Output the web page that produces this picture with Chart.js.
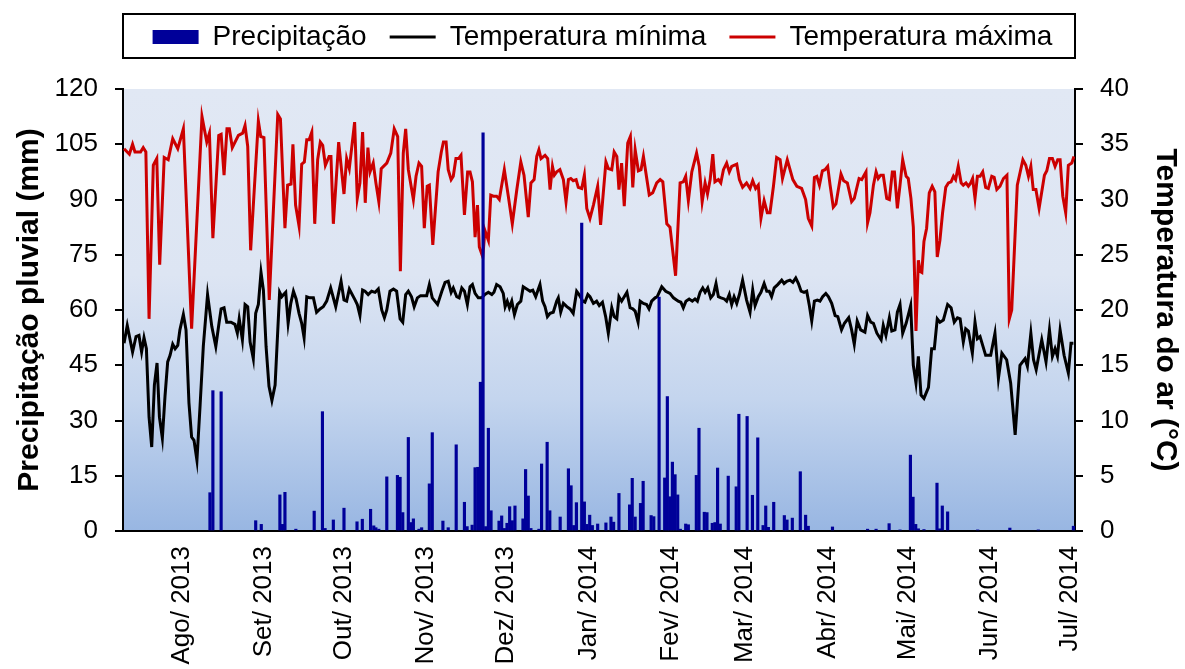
<!DOCTYPE html>
<html>
<head>
<meta charset="utf-8">
<script src="https://cdn.jsdelivr.net/npm/chart.js@4.4.1/dist/chart.umd.min.js"></script>
<style>
html, body { margin: 0; padding: 0; background: #fff; }
#wrap { width: 1185px; height: 669px; position: relative; }
</style>
</head>
<body>
<div id="wrap"><canvas id="chart"></canvas></div>
<script>
// x values are days counted from 10 Jul 2013
const monthDays = [22, 53, 83, 114, 144, 175, 206, 234, 265, 295, 326, 356];
const monthLabels = ['Ago/ 2013', 'Set/ 2013', 'Out/ 2013', 'Nov/ 2013', 'Dez/ 2013', 'Jan/ 2014',
    'Fev/ 2014', 'Mar/ 2014', 'Abr/ 2014', 'Mai/ 2014', 'Jun/ 2014', 'Jul/ 2014'];

// [day, mm]
const rain = [
    [32.7,10.4],[33.8,38.1],[36.9,37.8],[49.9,2.8],[52,1.8],[59,9.8],[60,1.8],[60.9,10.5],[65,0.5],
    [71.9,5.4],[75,32.4],[76,0.7],[79.1,3],[83.1,6.2],[88,2.5],[90,3.2],[93.1,5.9],[94.3,1.4],[95.1,0.9],
    [96.2,0.5],[99.2,14.7],[103.2,15.1],[104.2,14.6],[105.2,5],[107.3,25.4],[108.3,2.3],[109.2,3.3],
    [111.3,0.5],[112.3,0.9],[115.2,12.8],[116.3,26.7],[120.3,2.7],[122.3,0.9],[125.3,23.4],[128.4,7.8],
    [129.4,1.2],[131.3,1.6],[132.4,17.2],[133.4,17.3],[134.4,40.4],[135.4,108.1],[136.4,1.2],[137.4,27.9],
    [138.4,5.5],[141.4,2.7],[142.4,4.1],[143.4,0.7],[144.4,2.1],[145.4,6.6],[146.4,2.8],[147.4,6.8],
    [150.4,3.3],[151.4,16.7],[152.4,9.5],[153.4,0.7],[156.4,0.5],[157.4,18.2],[159.5,24.1],[160.5,5.5],
    [164.4,3.8],[167.5,16.9],[168.5,12.3],[169.5,1.5],[170.5,7.7],[172.5,83.6],[173.5,7.9],[174.5,1.8],
    [175.5,4.3],[176.5,1.5],[178.5,1.9],[181.6,2.2],[183.5,3.8],[184.5,2.4],[186.5,10.2],[190.5,7.1],
    [191.5,14.3],[192.6,3.8],[194.6,7.5],[195.6,13.5],[198.6,4.2],[199.6,3.9],[201.6,63.5],[203.7,14.4],
    [204.7,36.5],[205.6,9.3],[206.6,18.7],[207.6,15.3],[208.6,9.8],[209.6,0.5],[211.6,1.9],[212.6,1.7],
    [215.6,15.1],[216.6,27.9],[218.6,5.1],[219.6,5],[221.6,2.1],[222.6,2.3],[223.6,17.1],[224.6,1.9],
    [227.6,14.9],[230.6,12],[231.6,31.7],[234.7,31.1],[236.7,9.7],[238.7,25.3],[240.7,1.5],[241.7,6.8],
    [242.7,1],[244.7,7.8],[248.7,4.2],[249.7,3],[251.7,3.5],[254.7,16.1],[256.7,4.3],[257.7,1.3],
    [266.8,1.1],[280,0.5],[283.2,0.5],[288.1,2],[292.2,0.3],[296.1,20.6],[297.1,9.2],[298.1,1.8],
    [299.1,0.6],[301.2,0.4],[306.1,13],[307.1,0.6],[308.1,6.8],[310.1,5.2],[321.4,0.3],[333.5,0.8],
    [344.2,0.3],[357.4,1.3]
];

// [day, °C]
const tmin = [
    [0.4,17],[1.6,18.6],[3.6,16.2],[4.9,17.6],[6,17.7],[7,16.2],[7.9,17.5],[8.8,16.5],[9.8,10.3],
    [10.8,7.6],[11.8,13.2],[12.8,15.2],[13.7,10.3],[14.8,8.4],[15.8,12.2],[16.8,15.3],[17.7,15.9],
    [18.7,16.9],[19.6,16.5],[20.6,16.8],[21.4,18.2],[22.7,19.6],[23.7,18.2],[24.8,11.6],[25.8,8.5],
    [26.7,8.2],[27.8,6.4],[29,11.4],[30.2,16.7],[31.8,21.4],[33.4,18.5],[34.9,16.7],[36.1,18.8],
    [36.9,20.1],[38,20.2],[39,18.9],[40.6,18.9],[42.1,18.7],[43,17.9],[43.7,19.2],[44.9,17.3],
    [45.9,20.5],[46.9,20.3],[47.8,17.1],[49,15.6],[49.9,19.7],[50.9,20.5],[51.9,23.4],[52.8,21.8],
    [53.8,16.7],[54.9,13.1],[56,11.8],[57.2,13.2],[58.9,21.6],[59.7,21.2],[60.4,21.4],[61.2,21.6],
    [62.1,18.8],[63.1,20.6],[64.1,21.7],[65.1,21],[66.2,19.7],[67.2,18.8],[68.1,17.5],[69.1,21.2],
    [70.3,21.1],[71.6,21.1],[72.8,19.8],[74.1,20.1],[75.3,20.3],[76.6,20.8],[78.1,22],[80,20.3],
    [82,22.6],[83.1,20.9],[84.1,20.8],[85.1,21.9],[87.3,20.9],[88.1,20.5],[89.1,19.5],[90.1,21.8],
    [91,21.7],[92.2,21.4],[93.5,21.7],[94.8,21.6],[96,21.9],[97.3,20],[98.3,19.3],[99.2,20],
    [100.4,21.7],[101.7,21.9],[102.9,21.7],[104.2,19.2],[105.2,18.9],[106.3,21.4],[107.3,21.7],
    [108.5,21.2],[109.5,20.3],[110.7,21.1],[111.9,21.3],[114.2,21.3],[115.2,22.3],[116.3,21.1],
    [118.3,20.5],[119.9,21.7],[121.1,22.5],[122.3,22.6],[123.4,21.6],[124.2,22],[125.5,21.2],
    [126.4,21.1],[127.4,22],[128.4,21.7],[129.5,20.5],[130.5,22.1],[131.4,22.3],[132.4,21.5],
    [133.6,21.1],[134.9,21.1],[136.1,21.4],[137.4,21.6],[138.7,21.4],[139.5,21.6],[140.5,22.3],
    [141.8,22.1],[143,21.5],[143.7,20.3],[144.5,20.8],[145.3,20.2],[146.2,20.8],[147.2,19.6],
    [148.3,20.5],[149.6,20.8],[150.5,22.1],[151.8,21.9],[153.1,21.7],[154.1,21.8],[155.2,21.2],
    [156.2,21.9],[156.8,22.3],[157.8,20.8],[158.7,20.3],[159.6,19.4],[160.6,19.7],[161.8,19.8],
    [163.1,20.8],[163.7,21.1],[164.6,19.8],[165.6,20.6],[166.9,20.3],[168.1,20.1],[169.3,19.7],
    [170.6,21.7],[171.5,21.4],[172.9,20.8],[173.7,20.7],[174.8,21.4],[175.6,21.2],[176.9,20.6],
    [178.1,20.8],[179.1,20.4],[180.3,20.7],[181.5,19.4],[182.5,17.9],[183.8,20.2],[184.7,19.4],
    [185.7,19.2],[186.5,21.2],[187.5,20.8],[188.5,21.2],[189.5,21.6],[190.7,20.2],[191.7,20.1],
    [192.6,19.9],[193.7,18.9],[194.5,20.8],[195.7,20.6],[196.9,20.5],[197.8,20.1],[198.8,20.8],
    [200.1,21.1],[200.9,21.2],[202.6,22.1],[204.1,21.7],[205.7,21.5],[207,21.1],[208.8,20.8],
    [209.8,20.7],[210.7,20.2],[211.7,20.8],[212.9,21],[214.1,20.8],[215.1,21],[216,20.8],[217,21.6],
    [218,22],[218.9,21.6],[219.9,22],[221,21.1],[222,21.4],[223,22.4],[223.9,21.2],[224.9,21.1],
    [226.1,21],[227,20.8],[228,21.4],[228.9,20.5],[229.8,21.2],[230.8,20.6],[231.8,21.4],[233,22.7],
    [234.5,20.9],[235.8,19.8],[236.8,21.8],[237.7,20.4],[238.9,21.2],[239.9,21.6],[241.1,22.4],
    [242.1,21.7],[243,21.7],[243.9,21.2],[244.9,22],[246.2,22.3],[247.7,22.7],[248.6,22.4],
    [249.6,22.6],[250.8,22.7],[251.9,22.5],[253,22.9],[254,22.4],[255,21.7],[256.1,21.6],[257.1,21.7],
    [258.1,20.4],[259,19],[260,20.8],[261.1,20.9],[262.1,20.8],[263.1,21.2],[264.3,21.5],[265.3,21.2],
    [266.5,20.6],[267.8,19.5],[268.8,19.4],[270.2,18.2],[271.3,18.8],[272.9,19.3],[274,18.2],[275,16.9],
    [276.1,19],[277.4,18.2],[279,18],[280,19.5],[281.2,18.9],[282.2,18.8],[283.5,17.9],[285.1,17.3],
    [285.9,18.6],[286.9,17.7],[288.2,19.3],[289.1,18.1],[290.3,18.2],[291.2,19.8],[292.2,20.5],
    [293.2,17.9],[294.5,18.8],[296.2,20.4],[297.2,15],[298.2,13.4],[299.1,15.8],[300.1,12.3],[301.2,12],
    [302.9,13],[304.1,16.5],[305.1,16.5],[306.2,19.2],[307.2,18.9],[308.5,19.1],[310.1,20.5],[311.4,20.2],
    [312.6,18.9],[313.8,19.3],[314.8,19.2],[316,17.1],[316.9,18.3],[317.9,18.1],[319.4,16.1],[320.4,18.9],
    [321.3,17.4],[322.3,17.6],[324.4,15.9],[326.3,15.9],[327.9,17.9],[329.2,13.8],[330.5,16.1],
    [332.3,15.5],[333.8,13.4],[335.5,8.7],[337.3,15],[339.2,15.6],[340.1,14.9],[341.4,17.9],[342.4,15.5],
    [343.4,14.6],[345.5,17.3],[347.1,15.3],[348.4,18.2],[349.5,15.8],[350.5,16.5],[351.4,15.8],
    [352.4,18.2],[353.9,15.9],[355.5,14.3],[356.5,17],[357.4,17]
];

// [day, °C]
const tmax = [
    [0.4,34.6],[2.4,34.1],[3.6,35],[4.5,34.3],[6.6,34.3],[7.6,34.7],[8.6,34.3],[9.8,19.2],[11.4,33.1],
    [12.7,33.7],[13.8,24.1],[15.5,33.8],[17,33.6],[18.7,35.5],[20.6,34.6],[22.7,36.4],[25.8,18.3],
    [29.7,37.5],[31.5,35.2],[32.5,36],[33.8,26.5],[36,35.8],[36.9,35.9],[38,32.2],[39.1,36.4],[40,36.4],
    [41.1,34.7],[43.4,35.8],[45,36],[45.9,36.7],[46.9,34.8],[48,25.4],[50.9,37.1],[51.8,35.7],[53,35.6],
    [55,20.9],[58.2,37.7],[59.2,37.3],[60.9,27.4],[61.9,31.3],[63.2,31.4],[63.9,35],[64.9,29.5],
    [66.2,27.6],[67.2,33.2],[68.2,33.4],[69.1,35.4],[70,35.4],[71,36.1],[72.1,27.8],[73.2,33.6],
    [74.2,35.2],[75.1,34.9],[76.1,33.1],[77.5,33.9],[78.2,33.9],[79.1,27.8],[81.1,35.2],[83.1,30.5],
    [84.1,33.7],[85.1,32.8],[87.1,37],[88.1,30.1],[89.1,31.5],[90.1,36.1],[91.1,29.7],[92.1,34.7],
    [92.9,32.5],[94.1,33.3],[95.1,31.5],[96.2,29.8],[97.1,32.8],[99.2,33.3],[100.7,34.2],[102,36.4],
    [103.3,35.7],[104.3,23.5],[105.4,34.2],[106.3,36.4],[107.3,32.7],[109.2,30],[110.2,32.1],
    [111.3,33.3],[112.3,33],[113.3,27.4],[114.4,31.2],[115.2,31.3],[116.5,25.9],[118.5,32.5],
    [119.7,34.3],[120.5,35.2],[121.5,35.2],[122.3,32.7],[123.4,31.8],[124.2,32.1],[125.2,33.7],
    [126.2,33.7],[127.1,34],[128.4,28.6],[129.6,32.5],[130.5,32.5],[131.4,31.6],[132.4,26.6],
    [133.3,29.5],[134,25.7],[135.3,24.8],[136.1,27.2],[137.4,26.3],[138.3,30.4],[139.3,30.3],
    [140.5,30.3],[141.5,30],[143.4,32.7],[144.9,30.3],[146.4,27.8],[148.1,30.9],[149.6,33.4],
    [150.8,32.2],[152.4,28.4],[153.4,31.5],[154.6,31.8],[155.6,33.9],[156.4,34.5],[157.2,33.7],
    [158.7,34],[159.7,33.7],[160.6,30.9],[161.5,33],[162.2,32.2],[163.1,32.5],[164.3,32.7],[165.6,31.8],
    [166.6,29.8],[167.5,31.8],[168.4,31.9],[169.3,31.7],[170.4,31.8],[171.2,31.1],[172.5,31],
    [173.5,32.2],[174.4,29.2],[175.6,28.3],[176.9,29.5],[178.5,31.2],[179.6,27.7],[181.6,33.4],
    [182.5,32.8],[183.8,32.7],[184.7,34.3],[185.7,33.9],[186.5,30.9],[187.5,33.3],[188.5,29.4],
    [189.8,35.1],[190.8,35.7],[191.7,31.1],[192.6,34.5],[193.8,32.6],[194.8,32.7],[195.7,33.9],
    [197.9,30.4],[199.2,30.6],[200.7,31.5],[202,31.8],[203,31.6],[204.5,27.8],[205.7,27.5],[207.8,23.1],
    [209.5,31.5],[210.7,31.6],[211.6,32.1],[212.6,29.9],[213.9,32.5],[215.7,34.2],[216.7,33],
    [217.8,29.8],[218.9,31.5],[219.8,30.5],[220.8,31.8],[221.8,34.1],[222.6,31.6],[223.9,31.8],
    [224.8,31.5],[225.8,32.7],[227,33.3],[228,32.5],[228.9,33],[230.8,33.2],[231.8,31.8],[233,31.1],
    [234.5,31.5],[235.8,31],[236.8,31.7],[237.9,31],[238.9,31.3],[239.9,28.3],[241.1,29.9],[242.3,28.8],
    [243.3,28.8],[244.6,31.2],[245.8,33.8],[247.1,33.6],[248,31.9],[249.8,33.6],[251.9,31.8],
    [253.4,31.2],[255.2,31],[256.7,30],[257.7,28.3],[259,27.6],[260,32],[260.9,32.1],[261.9,31.3],
    [263,32.6],[264,32.7],[265,33],[265.9,31.3],[267.1,29.3],[268.1,29.6],[270,32.3],[271,31.7],
    [272.4,31.5],[274,29.8],[275,30.1],[276.8,31.9],[277.8,31.8],[278.7,32.2],[279.4,32.5],[280,27.9],
    [280.9,28.8],[282.2,31.3],[283.2,32.5],[284,31.9],[284.9,32.2],[285.9,32.2],[287.2,30.1],[288.2,30],
    [289.3,32.5],[290.1,32.5],[291.2,29.2],[292.2,31.3],[293.2,33.6],[294.5,32.1],[295.3,31.9],
    [296.3,30.1],[297.2,27.5],[298.2,18.1],[299.1,24.5],[299.7,23.5],[300.4,23.4],[301.2,26.2],
    [302.2,27.4],[303.2,30.6],[304.3,31.2],[305.3,30.7],[306.2,24.8],[307.2,26.3],[308.2,28.8],
    [309.4,31.1],[310.4,31.5],[311.4,31.6],[312.3,32.1],[313.1,31.8],[314.1,33],[315.2,31.5],[316,31.3],
    [317,31.5],[317.9,31.2],[318.8,31.5],[319.5,31.9],[320.4,30.1],[321.3,32.1],[322.3,32.1],
    [323.3,32.5],[324.4,31.1],[325.4,31],[326.7,32.1],[327.6,32],[328.6,30.9],[329.8,31.2],[331.1,31.9],
    [332.4,32.2],[333.3,19.2],[334.2,20],[336.3,31.3],[338.4,33.6],[339.5,33.1],[340.5,32.1],[341.4,33],
    [342.3,30.9],[343.3,30.9],[344.5,29.2],[346.5,32.2],[347.4,32.6],[348.4,33.7],[349.5,33.7],
    [350.5,33],[351.5,33.6],[352.4,33.6],[353.4,30.3],[354.5,28.8],[355.5,33.1],[356.8,33.3],[357.6,33.9]
];

const toXY = pairs => pairs.map(([x, y]) => ({ x, y }));

Chart.defaults.font.family = "'Liberation Sans', Arial, sans-serif";
Chart.defaults.color = '#000';

// light lavender plot area that turns blue towards the bottom
const plotBackground = {
    id: 'plotBackground',
    beforeDraw(chart) {
        const { ctx, chartArea: a } = chart;
        const g = ctx.createLinearGradient(0, a.top, 0, a.bottom);
        g.addColorStop(0, '#e1e8f4');
        g.addColorStop(0.42, '#dde5f3');
        g.addColorStop(0.7, '#c4d5ee');
        g.addColorStop(1, '#98b6e2');
        ctx.save();
        ctx.fillStyle = g;
        ctx.fillRect(a.left, a.top, a.right - a.left, a.bottom - a.top);
        ctx.restore();
    }
};

// fixed legend band height + frame around it
const legendFrame = {
    id: 'legendFrame',
    afterInit(chart) {
        const legend = chart.legend;
        if (!legend) return;
        const fit = legend.fit;
        legend.fit = function () { fit.call(this); this.height = 89; };
    },
    afterDraw(chart) {
        const { ctx, chartArea: a } = chart;
        ctx.save();
        ctx.strokeStyle = '#000';
        ctx.lineWidth = 2;
        ctx.strokeRect(a.left, 14, a.right - a.left, 44);
        ctx.restore();
    }
};

new Chart(document.getElementById('chart'), {
    type: 'bar',
    data: {
        datasets: [
            {
                type: 'bar',
                label: 'Precipitação',
                data: toXY(rain),
                yAxisID: 'y',
                backgroundColor: '#000099',
                barThickness: 2.5,
                order: 0
            },
            {
                type: 'line',
                label: 'Temperatura mínima',
                data: toXY(tmin),
                yAxisID: 'y1',
                borderColor: '#000000',
                backgroundColor: '#000000',
                borderWidth: 3,
                pointRadius: 0,
                order: 1
            },
            {
                type: 'line',
                label: 'Temperatura máxima',
                data: toXY(tmax),
                yAxisID: 'y1',
                borderColor: '#cc0000',
                backgroundColor: '#cc0000',
                borderWidth: 3,
                pointRadius: 0,
                order: 1
            }
        ]
    },
    options: {
        responsive: true,
        maintainAspectRatio: false,
        animation: false,
        layout: { padding: { left: 20, right: 0, top: 0, bottom: 0 } },
        plugins: {
            tooltip: { enabled: false },
            legend: {
                position: 'top',
                labels: {
                    color: '#000',
                    font: { size: 28 },
                    padding: 23,
                    usePointStyle: true,
                    pointStyleWidth: 46,
                    boxHeight: 14,
                    generateLabels(chart) {
                        const items = Chart.defaults.plugins.legend.labels.generateLabels(chart);
                        items.forEach(it => {
                            it.pointStyle = chart.data.datasets[it.datasetIndex].type === 'bar' ? 'rect' : 'line';
                        });
                        return items;
                    }
                }
            }
        },
        scales: {
            x: {
                type: 'linear',
                min: 0,
                max: 358,
                offset: false,
                grid: { display: false },
                border: { display: true, color: '#000', width: 2 },
                ticks: {
                    autoSkip: false,
                    minRotation: 90,
                    maxRotation: 90,
                    padding: 7,
                    font: { size: 26 },
                    callback: v => monthLabels[monthDays.indexOf(v)] || ''
                },
                afterBuildTicks: s => { s.ticks = monthDays.map(v => ({ value: v })); },
                afterFit: s => { s.height = 138; }
            },
            y: {
                position: 'left',
                min: 0,
                max: 120,
                grid: { drawOnChartArea: false, color: '#000', lineWidth: 2, tickLength: 8 },
                border: { color: '#000', width: 2 },
                ticks: { stepSize: 15, padding: 17, font: { size: 26 } },
                title: {
                    display: true,
                    text: 'Precipitação pluvial (mm)',
                    font: { size: 30, weight: 'bold', lineHeight: 0.6667 },
                    padding: { top: 0, bottom: 0 }
                },
                afterFit: s => { s.width = 103; }
            },
            y1: {
                position: 'right',
                min: 0,
                max: 40,
                grid: { drawOnChartArea: false, color: '#000', lineWidth: 2, tickLength: 8 },
                border: { color: '#000', width: 2 },
                ticks: { stepSize: 5, padding: 17, font: { size: 26 } },
                title: {
                    display: true,
                    text: 'Temperatura do ar (°C)',
                    font: { size: 30, weight: 'bold', lineHeight: 0.6667 },
                    padding: { top: 10, bottom: 0 }
                },
                afterFit: s => { s.width = 110; }
            }
        }
    },
    plugins: [plotBackground, legendFrame]
});
</script>
</body>
</html>
